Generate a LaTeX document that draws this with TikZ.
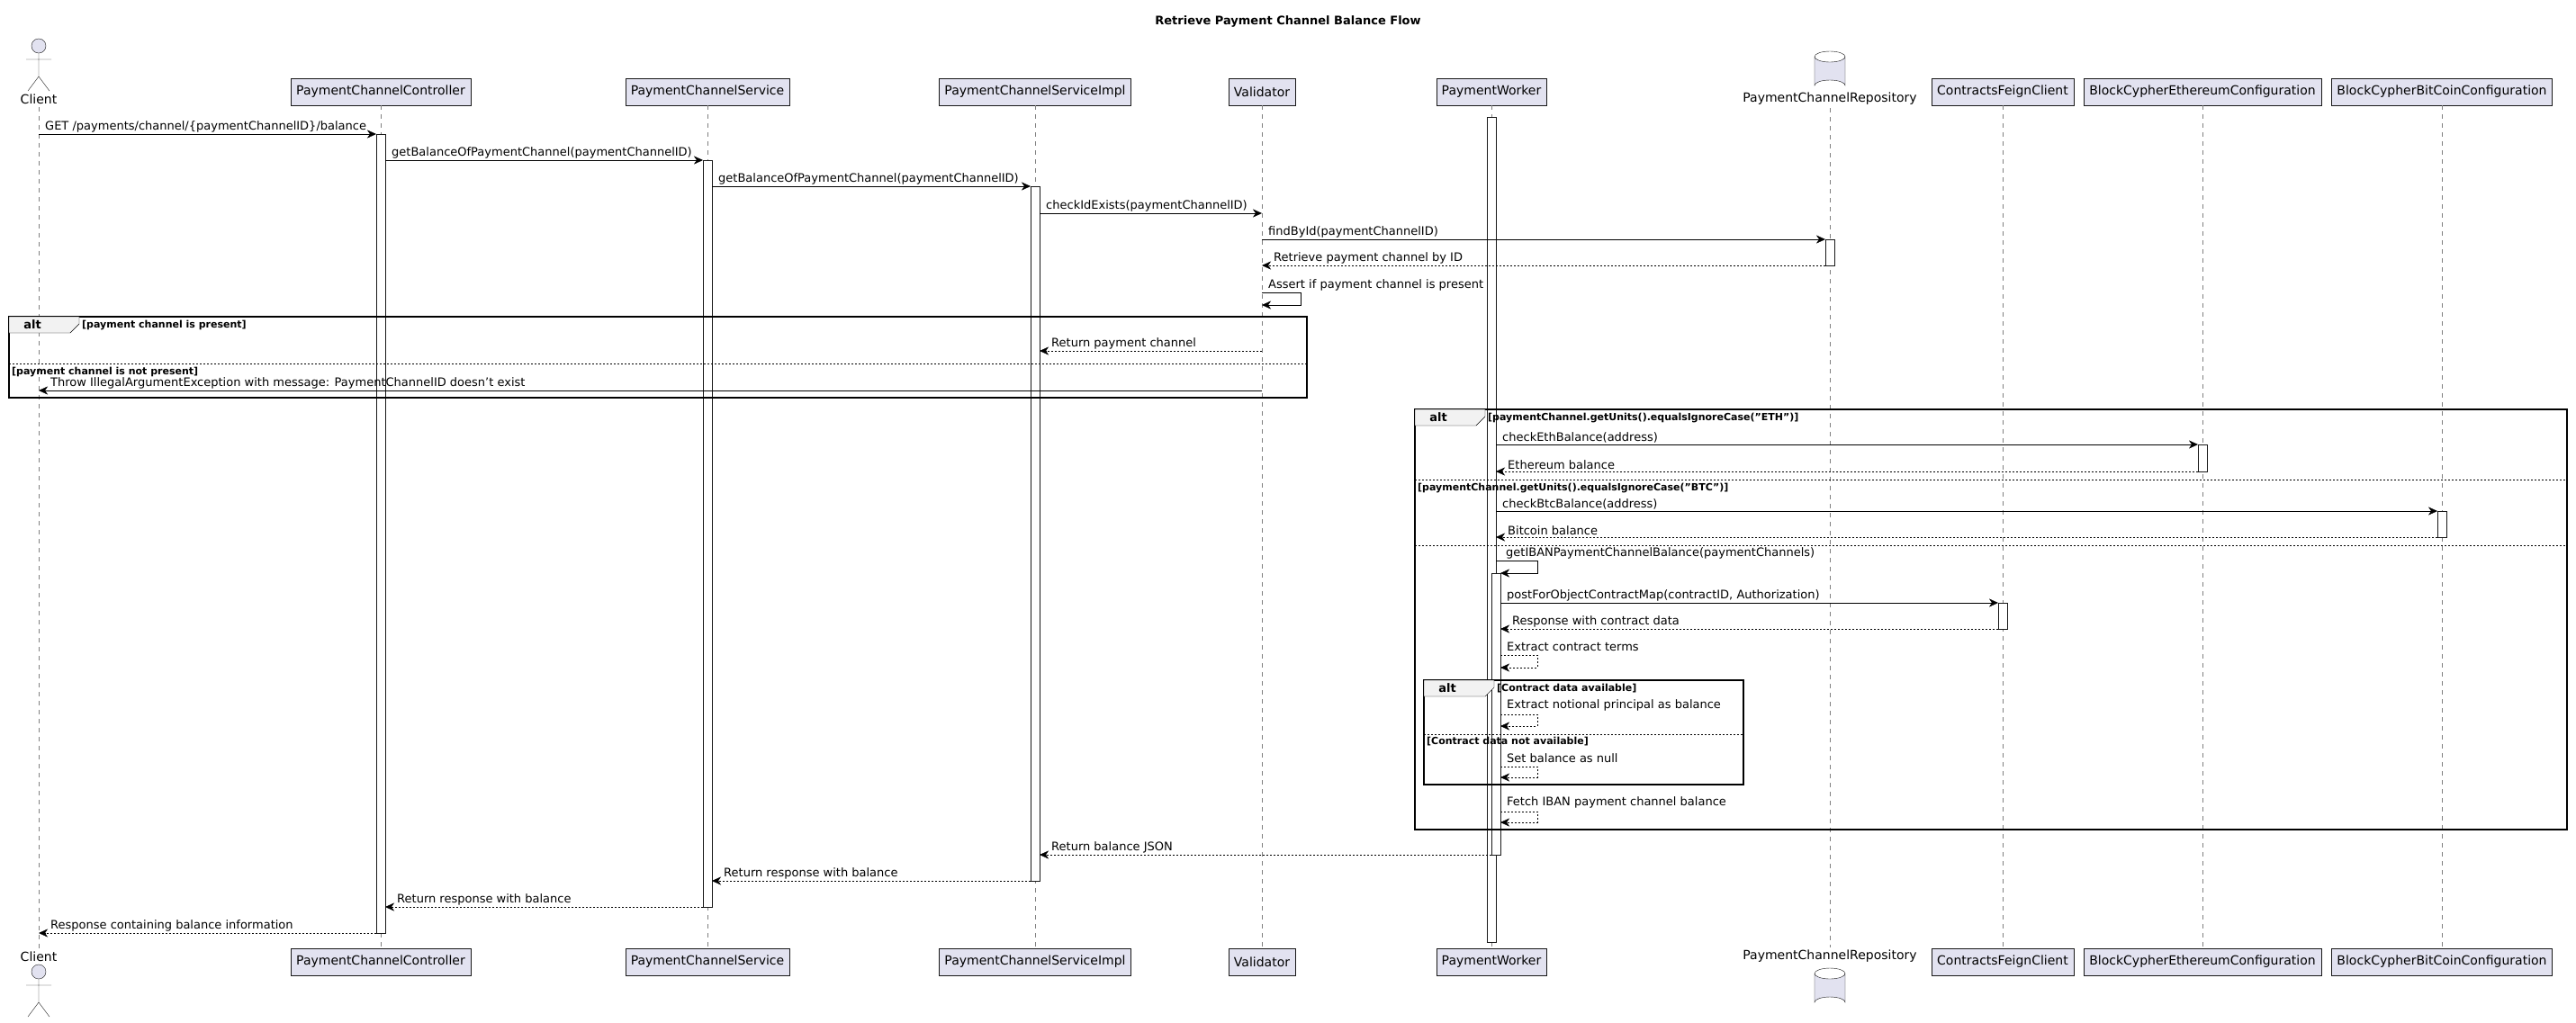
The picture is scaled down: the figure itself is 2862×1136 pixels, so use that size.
\documentclass[tikz,border=0pt]{standalone}
\usepackage{fontspec}
\setmainfont{DejaVu Sans}
\usetikzlibrary{arrows.meta,positioning}
\definecolor{partfill}{RGB}{226,226,240}
\definecolor{partline}{RGB}{24,24,24}
\tikzset{
  part/.style={draw=partline,fill=partfill,minimum height=30pt,inner xsep=6pt,font=\fontsize{14}{16}\selectfont},
  life/.style={gray,dash pattern=on 5pt off 5pt},
  act/.style={draw=partline,fill=white},
  call/.style={-{Stealth[length=10pt,width=9pt,inset=3pt]}},
  back/.style={call,dash pattern=on 2pt off 2pt},
  lbl/.style={font=\fontsize{13}{15}\selectfont,anchor=south west,inner sep=1pt},
  frame/.style={draw=black,line width=1.5pt},
  cond/.style={font=\bfseries\fontsize{11}{13}\selectfont,anchor=west,inner sep=1pt},
  sep/.style={dash pattern=on 2pt off 2pt}
}
\begin{document}
\begin{tikzpicture}[x=1pt,y=-1pt]
\useasboundingbox (0,0) rectangle (2862,1136);
\node[font=\bfseries\fontsize{13}{15}\selectfont] (title) at (1431,24) {Retrieve Payment Channel Balance Flow};

% participants, top and bottom
\foreach \n/\x/\t in {ctrl/423/PaymentChannelController, svc/786/PaymentChannelService,
    impl/1150/PaymentChannelServiceImpl, val/1402/Validator, work/1657/PaymentWorker,
    feign/2225/ContractsFeignClient, eth/2447/BlockCypherEthereumConfiguration,
    btc/2713/BlockCypherBitCoinConfiguration}{
  \node[part] (\n) at (\x,102) {\t};
  \node[part] (\n B) at (\x,1069) {\t};
  \draw[life] (\n.south) -- (\n B.north);
}
% actor
\node[font=\fontsize{14}{16}\selectfont] (client) at (43,110) {Client};
\node[font=\fontsize{14}{16}\selectfont] (clientB) at (43,1063) {Client};
\draw[life] (client.south) -- (clientB.north);
\foreach \y/\s in {51/1,1080/1}{
  \draw[partline,fill=partfill] (43,\y) ellipse (8 and 8);
  \draw[partline] (43,\y+8) -- (43,\y+34) (29,\y+15) -- (57,\y+15)
    (31,\y+50) -- (43,\y+34) -- (55,\y+50);
}
% database
\node[font=\fontsize{14}{16}\selectfont] (repo) at (2033,110) {PaymentChannelRepository};
\node[font=\fontsize{14}{16}\selectfont] (repoB) at (2033,1063) {PaymentChannelRepository};
\draw[life] (repo.south) -- (repoB.north);
\foreach \y in {57,1076}{
  \draw[partline,fill=partfill] (2016,\y+6) -- (2016,\y+38) arc[start angle=180,end angle=360,x radius=17,y radius=6]
    -- (2050,\y+6) arc[start angle=0,end angle=180,x radius=17,y radius=6];
  \draw[partline] (2016,\y+6) arc[start angle=180,end angle=360,x radius=17,y radius=6];
}

% activations
\draw[act] (418,149) rectangle (428,1037);
\draw[act] (781,178) rectangle (791,1008);
\draw[act] (1145,207) rectangle (1155,979);
\draw[act] (2028,266) rectangle (2038,295);
\draw[act] (1652,130) rectangle (1662,1047);
\draw[act] (2442,494) rectangle (2452,524);
\draw[act] (2708,568) rectangle (2718,597);
\draw[act] (2220,670) rectangle (2230,699);
\draw[act] (1657,637) rectangle (1667,950);

% messages
\draw[call] (43,149) -- node[lbl,pos=0,above right=1pt and 6pt]{GET /payments/channel/\{paymentChannelID\}/balance} (418,149);
\draw[call] (428,178) -- node[lbl,pos=0,above right=1pt and 6pt]{getBalanceOfPaymentChannel(paymentChannelID)} (781,178);
\draw[call] (791,207) -- node[lbl,pos=0,above right=1pt and 6pt]{getBalanceOfPaymentChannel(paymentChannelID)} (1145,207);
\draw[call] (1155,237) -- node[lbl,pos=0,above right=1pt and 6pt]{checkIdExists(paymentChannelID)} (1402,237);
\draw[call] (1402,266) -- node[lbl,pos=0,above right=1pt and 6pt]{findById(paymentChannelID)} (2028,266);
\draw[back] (2028,295) -- node[lbl,pos=1,above right=1pt and 12pt]{Retrieve payment channel by ID} (1402,295);
\draw[call] (1402,325) -- node[lbl,pos=0,above right=1pt and 6pt]{Assert if payment channel is present} (1445,325) -- (1445,339) -- (1402,339);

% alt: payment channel present
\draw[frame] (10,352) rectangle (1452,442);
\draw[fill=gray!10] (10,352) -- (88,352) -- (88,360) -- (78,370) -- (10,370) -- cycle;
\node[font=\bfseries\fontsize{13}{15}\selectfont] (altA) at (36,361) {alt};
\node[cond] (condA) at (90,361) {[payment channel is present]};
\draw[back] (1402,390) -- node[lbl,pos=1,above right=1pt and 12pt]{Return payment channel} (1155,390);
\draw[sep] (10,404) -- (1452,404);
\node[cond] (condB) at (12,413) {[payment channel is not present]};
\draw[call] (1402,434) -- node[lbl,pos=1,above right=1pt and 12pt]{Throw IllegalArgumentException with message: PaymentChannelID doesn't exist} (43,434);

% alt: units
\draw[frame] (1572,455) rectangle (2852,922);
\draw[fill=gray!10] (1572,455) -- (1650,455) -- (1650,463) -- (1640,473) -- (1572,473) -- cycle;
\node[font=\bfseries\fontsize{13}{15}\selectfont] (altC) at (1598,464) {alt};
\node[cond] (condC) at (1652,464) {[paymentChannel.getUnits().equalsIgnoreCase("ETH")]};
\draw[call] (1662,494) -- node[lbl,pos=0,above right=1pt and 6pt]{checkEthBalance(address)} (2442,494);
\draw[back] (2442,524) -- node[lbl,pos=1,above right=1pt and 12pt]{Ethereum balance} (1662,524);
\draw[sep] (1572,533) -- (2852,533);
\node[cond] (condD) at (1574,542) {[paymentChannel.getUnits().equalsIgnoreCase("BTC")]};
\draw[call] (1662,568) -- node[lbl,pos=0,above right=1pt and 6pt]{checkBtcBalance(address)} (2708,568);
\draw[back] (2708,597) -- node[lbl,pos=1,above right=1pt and 12pt]{Bitcoin balance} (1662,597);
\draw[sep] (1572,606) -- (2852,606);
\draw[call] (1662,623) -- node[lbl,pos=0,above right=1pt and 10pt]{getIBANPaymentChannelBalance(paymentChannels)} (1708,623) -- (1708,637) -- (1667,637);
\draw[call] (1667,670) -- node[lbl,pos=0,above right=1pt and 6pt]{postForObjectContractMap(contractID, Authorization)} (2220,670);
\draw[back] (2220,699) -- node[lbl,pos=1,above right=1pt and 12pt]{Response with contract data} (1667,699);
\draw[back] (1667,728) -- node[lbl,pos=0,above right=3pt and 6pt]{Extract contract terms} (1708,728) -- (1708,742) -- (1667,742);

% alt: contract data
\draw[frame] (1582,756) rectangle (1937,872);
\draw[fill=gray!10] (1582,756) -- (1660,756) -- (1660,764) -- (1650,774) -- (1582,774) -- cycle;
\node[font=\bfseries\fontsize{13}{15}\selectfont] (altE) at (1608,765) {alt};
\node[cond] (condE) at (1662,765) {[Contract data available]};
\draw[back] (1667,794) -- node[lbl,pos=0,above right=3pt and 6pt]{Extract notional principal as balance} (1708,794) -- (1708,807) -- (1667,807);
\draw[sep] (1582,816) -- (1937,816);
\node[cond] (condF) at (1584,824) {[Contract data not available]};
\draw[back] (1667,852) -- node[lbl,pos=0,above right=3pt and 6pt]{Set balance as null} (1708,852) -- (1708,864) -- (1667,864);

\draw[back] (1667,902) -- node[lbl,pos=0,above right=3pt and 6pt]{Fetch IBAN payment channel balance} (1708,902) -- (1708,914) -- (1667,914);

% returns
\draw[back] (1657,950) -- node[lbl,pos=1,above right=1pt and 12pt]{Return balance JSON} (1155,950);
\draw[back] (1145,979) -- node[lbl,pos=1,above right=1pt and 12pt]{Return response with balance} (791,979);
\draw[back] (781,1008) -- node[lbl,pos=1,above right=1pt and 12pt]{Return response with balance} (428,1008);
\draw[back] (418,1037) -- node[lbl,pos=1,above right=1pt and 12pt]{Response containing balance information} (43,1037);
\end{tikzpicture}
\end{document}
